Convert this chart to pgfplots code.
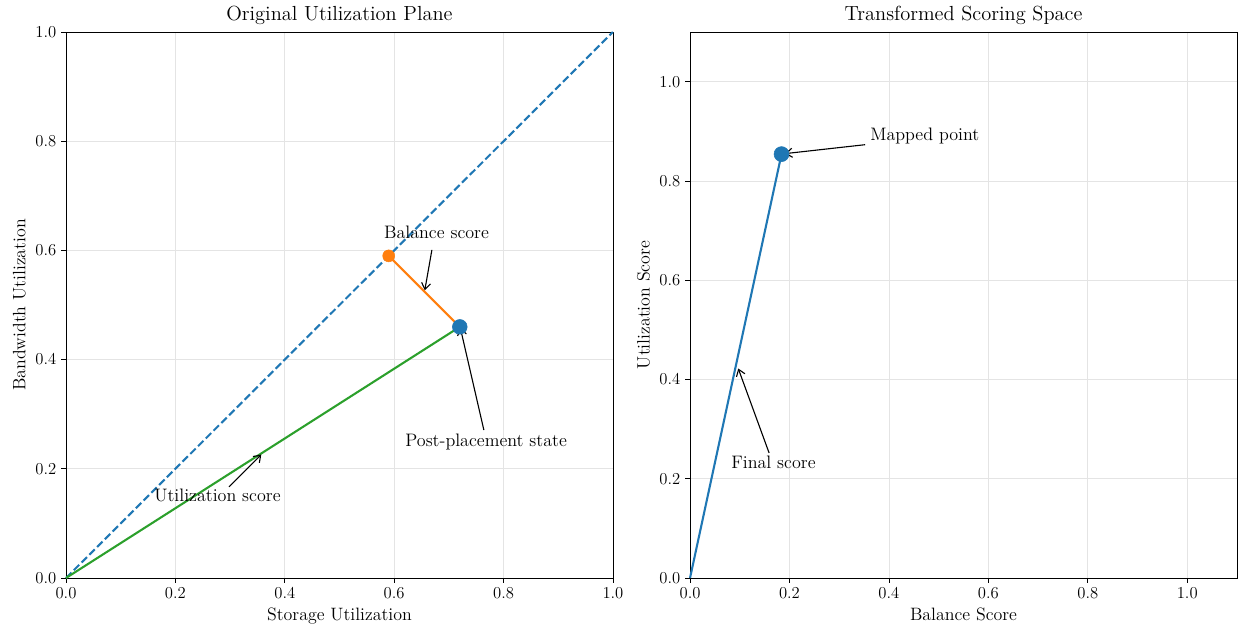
\documentclass[border=0pt]{standalone}
\usepackage{pgfplots}
\pgfplotsset{compat=1.18}
\usetikzlibrary{arrows.meta}
\definecolor{tabblue}{HTML}{1F77B4}
\definecolor{taborange}{HTML}{FF7F0E}
\definecolor{tabgreen}{HTML}{2CA02C}
\definecolor{gridgray}{HTML}{E4E4E4}
\tikzset{
  ann/.style={font=\fontsize{13}{15}\selectfont, anchor=base west, inner sep=0pt},
  arr/.style={-{Straight Barb[length=4.5pt,width=6.5pt]}, line width=0.8pt, black},
}
\pgfplotsset{
  myax/.style={
    scale only axis, width=393.8pt, height=393.1pt,
    grid=major, major grid style={gridgray, line width=0.6pt},
    axis line style={line width=0.6pt},
    tick style={black, line width=0.6pt}, tickwidth=3.5pt,
    xtick pos=bottom, ytick pos=left, tick align=outside,
    xticklabel style={/pgf/number format/.cd, fixed, fixed zerofill, precision=1},
    yticklabel style={/pgf/number format/.cd, fixed, fixed zerofill, precision=1},
    label style={font=\fontsize{12.9}{15}\selectfont},
    ticklabel style={font=\fontsize{12.9}{15}\selectfont},
    title style={font=\fontsize{14.7}{17}\selectfont, yshift=-4pt},
    clip=false,
  },
}
\begin{document}
\begin{tikzpicture}
\begin{axis}[myax, at={(0pt,0pt)}, anchor=south west,
  xmin=0, xmax=1, ymin=0, ymax=1,
  xtick={0,0.2,0.4,0.6,0.8,1.0}, ytick={0,0.2,0.4,0.6,0.8,1.0},
  title={Original Utilization Plane},
  xlabel={Storage Utilization}, ylabel={Bandwidth Utilization}]
\addplot[tabblue, line width=1.5pt, dash pattern=on 5.5pt off 2.4pt] coordinates {(0,0) (1,1)};
\addplot[only marks, mark=*, mark size=5.3pt, tabblue, mark options={draw=none}] coordinates {(0.72,0.46)};
\addplot[tabgreen, line width=1.5pt] coordinates {(0,0) (0.72,0.46)};
\addplot[taborange, line width=1.5pt] coordinates {(0.59,0.59) (0.72,0.46)};
\addplot[only marks, mark=*, mark size=4.3pt, taborange, mark options={draw=none}] coordinates {(0.59,0.59)};
\node[ann] at (axis cs:0.581,0.621) {Balance score};
\draw[arr] (axis cs:0.669,0.601) -- (axis cs:0.656,0.527);
\node[ann] at (axis cs:0.62,0.241) {Post-placement state};
\draw[arr] (axis cs:0.764,0.271) -- (axis cs:0.721,0.458);
\node[ann] at (axis cs:0.161,0.140) {Utilization score};
\draw[arr] (axis cs:0.298,0.167) -- (axis cs:0.357,0.226);
\end{axis}
\begin{axis}[myax, at={(449.3pt,0pt)}, anchor=south west,
  xmin=0, xmax=1.1, ymin=0, ymax=1.1,
  xtick={0,0.2,0.4,0.6,0.8,1.0}, ytick={0,0.2,0.4,0.6,0.8,1.0},
  title={Transformed Scoring Space},
  xlabel={Balance Score}, ylabel={Utilization Score}]
\addplot[tabblue, line width=1.5pt] coordinates {(0,0) (0.184,0.854)};
\addplot[only marks, mark=*, mark size=5.4pt, tabblue, mark options={draw=none}] coordinates {(0.184,0.854)};
\node[ann] at (axis cs:0.362,0.882) {Mapped point};
\draw[arr] (axis cs:0.352,0.873) -- (axis cs:0.191,0.855);
\node[ann] at (axis cs:0.0825,0.220) {Final score};
\draw[arr] (axis cs:0.159,0.252) -- (axis cs:0.097,0.422);
\end{axis}
\path (-47.52pt,-36pt) rectangle (843.84pt,416.16pt);
\end{tikzpicture}
\end{document}
